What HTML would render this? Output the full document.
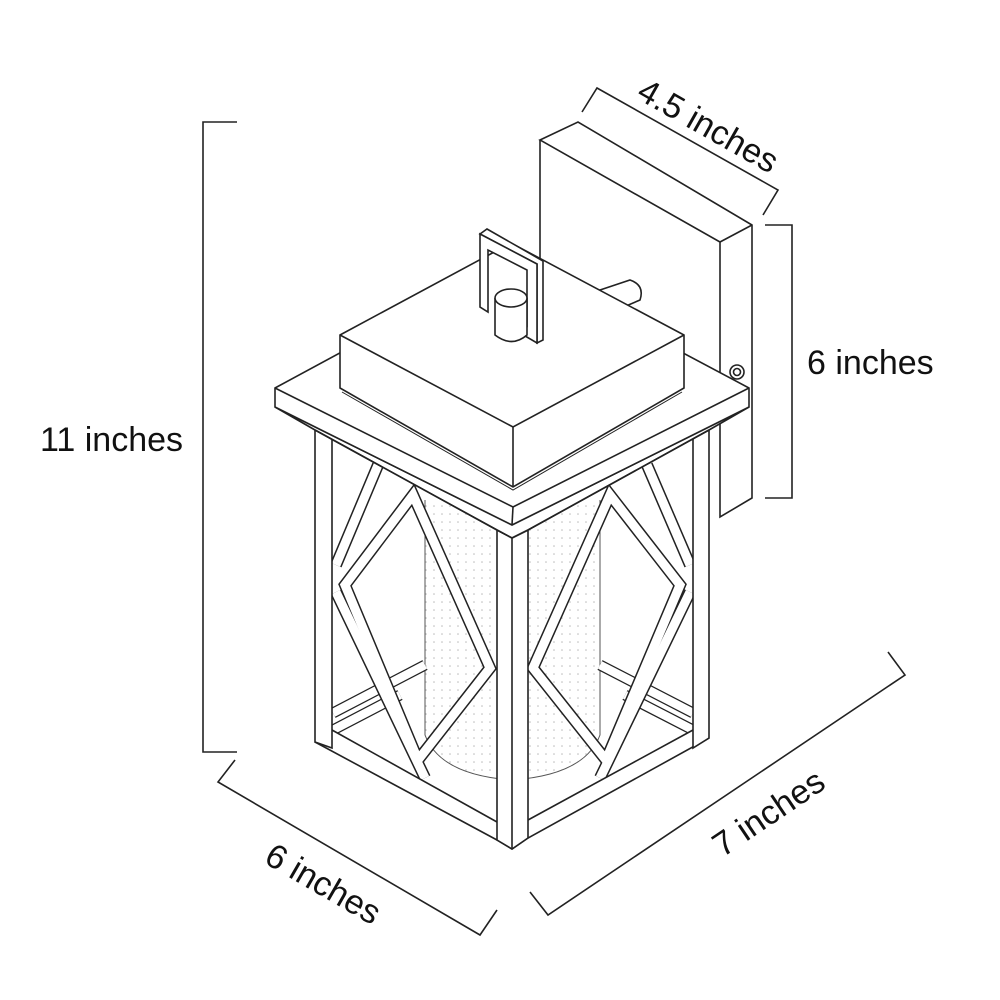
<!DOCTYPE html>
<html><head><meta charset="utf-8"><style>
html,body{margin:0;padding:0;background:#fff;}
svg{display:block}
text{font-family:"Liberation Sans",sans-serif;font-size:34px;fill:#111}
</style></head><body>
<svg width="1000" height="1000" viewBox="0 0 1000 1000" xmlns="http://www.w3.org/2000/svg">
<defs>
<pattern id="dots" width="8" height="8" patternUnits="userSpaceOnUse"><circle cx="2" cy="2" r="0.8" fill="#bbb"/></pattern>
</defs>
<g fill="none" stroke="#222" stroke-width="1.6" stroke-linejoin="miter">
<polyline points="237,122 203,122 203,752 237,752"/>
<polyline points="582,112 597,88 778,190 763,215"/>
<polyline points="765,225 792,225 792,498 765,498"/>
<polyline points="235,760 218,782 480,935 497,910"/>
<polyline points="530,892 548,915 905,675 888,652"/>

<polygon fill="#fff" points="540,140 578,122 752,225 752,498 720,517 720,242"/>
<polyline points="720,242 752,225"/>
<polyline points="540,140 540,300"/>
<circle cx="737" cy="372" r="7" fill="#fff"/><circle cx="737" cy="372" r="3.5"/>
<path fill="#fff" d="M600,290 L630,280 Q645,285 640,300 L612,312 Z"/>

<path fill="url(#dots)" stroke="#555" stroke-width="1" d="M425,500 L425,735 Q440,775 512,780 Q585,775 600,735 L600,500"/>

<g stroke="#222" stroke-width="11"><line x1="333" y1="713" x2="425" y2="665"/><line x1="693" y1="713" x2="600" y2="665"/>
<line x1="333" y1="730" x2="400" y2="695"/><line x1="693" y1="730" x2="625" y2="695"/></g>
<g stroke="#fff" stroke-width="8.5"><line x1="333" y1="713" x2="425" y2="665"/><line x1="693" y1="713" x2="600" y2="665"/>
<line x1="333" y1="730" x2="400" y2="695"/><line x1="693" y1="730" x2="625" y2="695"/></g>

<g stroke="#222" stroke-width="12">
<polygon points="413,495 490,668 418,760 345,585"/>
<line x1="378" y1="465" x2="336" y2="565"/>
<line x1="336" y1="592" x2="425" y2="778"/>
<polygon points="610,495 533,668 606,760 680,585"/>
<line x1="647" y1="465" x2="690" y2="565"/>
<line x1="690" y1="592" x2="600" y2="778"/>
</g>
<g stroke="#fff" stroke-width="9">
<polygon points="413,495 490,668 418,760 345,585"/>
<line x1="378" y1="465" x2="336" y2="565"/>
<line x1="336" y1="592" x2="425" y2="778"/>
<polygon points="610,495 533,668 606,760 680,585"/>
<line x1="647" y1="465" x2="690" y2="565"/>
<line x1="690" y1="592" x2="600" y2="778"/>
</g>

<!-- bottom frame -->
<polygon fill="#fff" stroke="none" points="315,742 332,730 497,822 528,820 693,730 709,738 528,838 512,849 497,840"/>
<polyline points="315,742 497,840 512,849 528,838 709,738"/>
<polyline points="332,730 497,822"/>
<polyline points="528,820 693,730"/>

<polygon fill="#fff" points="315,430 332,437 332,748 315,742"/>
<polygon fill="#fff" points="693,437 709,430 709,738 693,748"/>
<polygon fill="#fff" points="497,530 512,538 528,530 528,838 512,849 497,840"/>
<line x1="512" y1="538" x2="512" y2="849"/>

<polygon fill="#fff" points="275,407 512,525 749,407 709,430 528,530 512,538 497,530 315,430"/>
<polyline points="315,430 497,530 512,538 528,530 709,430"/>

<polygon fill="#fff" points="275,388 510,261 749,388 749,407 512,525 275,407"/>
<polyline points="275,388 513,507 749,388"/>
<line x1="513" y1="507" x2="512" y2="525"/>

<polygon fill="#fff" points="340,335 511,243 684,335 684,388 513,487 340,388"/>
<polyline points="340,335 513,427 684,335"/>
<line x1="513" y1="427" x2="513" y2="487"/>
<polyline points="342,392 513,490 682,392" stroke-width="1"/>

<polygon fill="#fff" points="480,234 487,229 543,261 543,340 537,343 537,264"/>
<path fill="#fff" d="M480,234 L537,264 L537,343 L520,333 L520,322 L527,326 L527,270 L488,250 L488,312 L480,307 Z"/>
<path fill="#fff" d="M495,298 L495,335 Q512,348 527,335 L527,298"/>
<ellipse cx="511" cy="298" rx="16" ry="9" fill="#fff"/>
</g>

<text x="40" y="451">11 inches</text>
<text x="807" y="374">6 inches</text>
<text transform="translate(707,128) rotate(29.5)" text-anchor="middle" dominant-baseline="middle">4.5 inches</text>
<text transform="translate(322,886) rotate(30)" text-anchor="middle" dominant-baseline="middle">6 inches</text>
<text transform="translate(770,815) rotate(-34)" text-anchor="middle" dominant-baseline="middle">7 inches</text>
</svg>
</body></html>
